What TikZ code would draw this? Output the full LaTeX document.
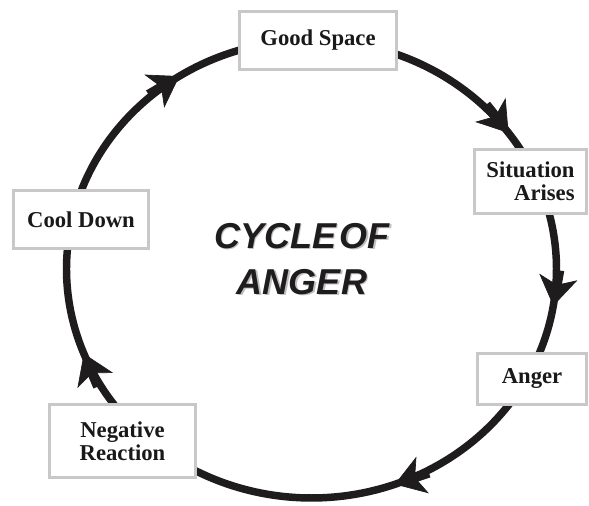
\documentclass[tikz,border=0pt]{standalone}
\usepackage{fontspec}
\setmainfont{Liberation Serif}
\newfontfamily\titlefont{Liberation Sans}
\usetikzlibrary{arrows.meta,decorations.markings,calc}
\definecolor{ink}{RGB}{30,28,28}
\definecolor{boxgray}{RGB}{200,200,200}
\tikzset{
  ring/.style={line width=5.6pt, draw=ink},
  tipat/.style={postaction={decorate}, decoration={markings,
      mark=at position #1 with {
        \fill[ink] (-27pt,-3.6pt) rectangle (-8pt,3.6pt);
        \arrow[fill=ink,draw=ink,line width=0.5pt]{Stealth[length=22pt,width=29pt,inset=6pt]}}}},
  stagebox/.style={draw=boxgray, line width=2.25pt, fill=white,
      inner sep=0pt, font=\fontsize{17}{17}\selectfont\bfseries, text=black!90},
  titletext/.style={font=\titlefont\fontsize{27}{27}\selectfont\bfseries\itshape}
}
\begin{document}
\begin{tikzpicture}[x=0.75pt,y=0.75pt]
\fill[white] (0,0) rectangle (589,506);
\useasboundingbox (0,0) rectangle (589,506);
\coordinate (c) at (311.5,237);
% points on the ring under each stage
\coordinate (r1) at ($(c)+(90:245 and 229)$);
\coordinate (r2) at ($(c)+(22.6:245 and 229)$);
\coordinate (r3) at ($(c)+(-28.7:245 and 229)$);
\coordinate (r4) at ($(c)+(-131:245 and 229)$);
\coordinate (r5) at ($(c)+(167.5:245 and 229)$);
% ring segments with arrowheads
\draw[ring, tipat=0.80] (r1) arc[start angle=90, end angle=22.6, x radius=245, y radius=229];
\draw[ring, tipat=0.62] (r2) arc[start angle=22.6, end angle=-28.7, x radius=245, y radius=229];
\draw[ring, tipat=0.40] (r3) arc[start angle=-28.7, end angle=-131, x radius=245, y radius=229];
\draw[ring, tipat=0.45] (r4) arc[start angle=-131, end angle=-192.5, x radius=245, y radius=229];
\draw[ring, tipat=0.57] (r5) arc[start angle=167.5, end angle=90, x radius=245, y radius=229];
% stages
\node[stagebox, minimum width=117.75pt, minimum height=43.5pt] (gs) at (318,465.5) {Good Space};
\node[stagebox, minimum width=84pt, minimum height=48pt, align=right] (sa) at (530.5,324.5) {Situation\\Arises};
\node[stagebox, minimum width=81.75pt, minimum height=38.25pt] (an) at (532,127) {Anger};
\node[stagebox, minimum width=109.5pt, minimum height=54.75pt, align=center] (nr) at (122.5,65) {Negative\\Reaction};
\node[stagebox, minimum width=101.25pt, minimum height=43.5pt] (cd) at (81,286.5) {Cool Down};
% title with shadow
\node[titletext, text=black!35, opacity=0.7] at (303.5,268.5) {CYCLE\hspace{0.1em}OF};
\node[titletext, text=black!35, opacity=0.7] at (303.5,222.5) {ANGER};
\node[titletext, text=ink] (t1) at (302,270) {CYCLE\hspace{0.1em}OF};
\node[titletext, text=ink] (t2) at (302,224) {ANGER};
\end{tikzpicture}
\end{document}
